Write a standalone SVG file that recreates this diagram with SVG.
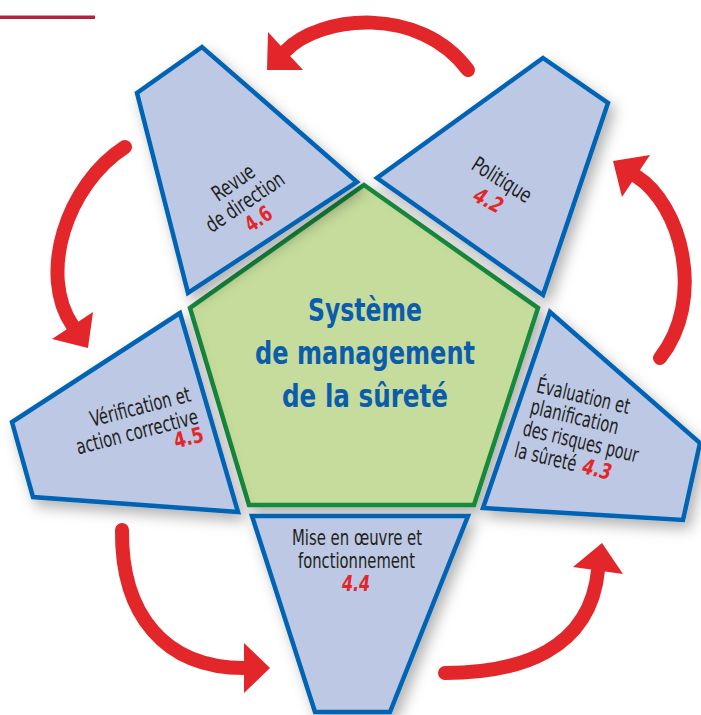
<svg xmlns="http://www.w3.org/2000/svg" width="701" height="715" viewBox="0 0 701 715">
<style>
.blk{fill:#bcc8e4;stroke:#0064b4;stroke-width:4.5;stroke-linejoin:miter}
.pent{fill:#c5dc9c;stroke:#168a3e;stroke-width:4.5;stroke-linejoin:miter}
.t{font-family:"Liberation Sans Narrow","DejaVu Sans Condensed","Liberation Sans",sans-serif;font-size:21.5px;fill:#231f20}
.n{font-family:"Liberation Sans Narrow","DejaVu Sans Condensed","Liberation Sans",sans-serif;font-size:21.5px;font-weight:bold;fill:#e3262a}
.ttl{font-family:"Liberation Sans Narrow","DejaVu Sans Condensed","Liberation Sans",sans-serif;font-size:32px;font-weight:bold;fill:#0b5cab;text-anchor:middle}
.arc{fill:none;stroke:#e3262a;stroke-width:14;stroke-linecap:round}
.head{fill:#e3262a}
</style>
<defs>
<filter id="sh" x="-20%" y="-20%" width="150%" height="150%">
<feDropShadow dx="5" dy="7" stdDeviation="7" flood-color="#000" flood-opacity="0.3"/>
</filter>
</defs>
<rect x="0" y="15.5" width="95" height="3.5" fill="#b5203f"/>
<g id="connectors">
<path class="arc" d="M468,70 C420,5 320,15 285.5,51"/>
<polygon class="head" points="268,32 303,70 267,70"/>
<path class="arc" d="M125,147 C66,185 38,275 72.5,325.5"/>
<polygon class="head" points="52,339 93,312 88,348"/>
<path class="arc" d="M122,530 C121,615 165,668 244,668"/>
<polygon class="head" points="244,643 270,668 244,693"/>
<path class="arc" d="M445,673 C520,673 590,650 598,570.5"/>
<polygon class="head" points="573,567 602,543 623,574"/>
<path class="arc" d="M660,358 C706,300 682,205 636,176"/>
<polygon class="head" points="650,155 622,197 613,161"/>
</g>
<g id="center" filter="url(#sh)">
<polygon class="pent" points="364,185 538,308 474,505 249,505 190,308"/>
</g>
<g id="center-text">
<text class="ttl" x="365" y="321" textLength="114" lengthAdjust="spacingAndGlyphs">Système</text>
<text class="ttl" x="365" y="364" textLength="220" lengthAdjust="spacingAndGlyphs">de management</text>
<text class="ttl" x="365" y="407" textLength="166" lengthAdjust="spacingAndGlyphs">de la sûreté</text>
</g>
<g id="revue">
<polygon class="blk" filter="url(#sh)" points="202,47 137,93 188,293 357,182"/>
<text class="t" text-anchor="middle" transform="translate(237.5,188.5) rotate(-35)" textLength="47" lengthAdjust="spacingAndGlyphs">Revue</text>
<text class="t" text-anchor="middle" transform="translate(249,208) rotate(-34)" textLength="90" lengthAdjust="spacingAndGlyphs">de direction</text>
<text class="n" text-anchor="middle" transform="translate(262.5,225) rotate(-34)" textLength="28" lengthAdjust="spacingAndGlyphs">4.6</text>
</g>
<g id="politique">
<polygon class="blk" filter="url(#sh)" points="543,58 608,103 543,295 377,178"/>
<text class="t" text-anchor="middle" transform="translate(498,186) rotate(32)" textLength="66" lengthAdjust="spacingAndGlyphs">Politique</text>
<text class="n" font-style="italic" text-anchor="middle" transform="translate(485,207) rotate(28)" textLength="30" lengthAdjust="spacingAndGlyphs">4.2</text>
</g>
<g id="evaluation">
<polygon class="blk" filter="url(#sh)" points="550,312 700,443 683,520 483,508"/>
<text class="t" transform="translate(535.5,392) rotate(13.5)" textLength="95" lengthAdjust="spacingAndGlyphs">Évaluation et</text>
<text class="t" transform="translate(529.3,413.3) rotate(13.5)" textLength="90" lengthAdjust="spacingAndGlyphs">planification</text>
<text class="t" transform="translate(521.7,435) rotate(13.5)" textLength="118" lengthAdjust="spacingAndGlyphs">des risques pour</text>
<g transform="translate(513.3,456.7) rotate(13.5)">
<text class="t" x="0" y="0" textLength="63" lengthAdjust="spacingAndGlyphs">la sûreté</text>
<text class="n" font-style="italic" x="70" y="0" textLength="29" lengthAdjust="spacingAndGlyphs">4.3</text>
</g>
</g>
<g id="mise">
<polygon class="blk" filter="url(#sh)" points="252,516 468,516 390,712 315,712"/>
<text class="t" text-anchor="middle" x="357" y="545" textLength="130" lengthAdjust="spacingAndGlyphs">Mise en œuvre et</text>
<text class="t" text-anchor="middle" x="356.5" y="568" textLength="117" lengthAdjust="spacingAndGlyphs">fonctionnement</text>
<text class="n" font-style="italic" text-anchor="middle" x="356" y="591" textLength="28" lengthAdjust="spacingAndGlyphs">4.4</text>
</g>
<g id="verification">
<polygon class="blk" filter="url(#sh)" points="180,313 12,422 33,497 238,512"/>
<text class="t" text-anchor="end" transform="translate(192,401) rotate(-14.5)" textLength="103" lengthAdjust="spacingAndGlyphs">Vérification et</text>
<text class="t" text-anchor="end" transform="translate(199.3,423.3) rotate(-14.5)" textLength="125" lengthAdjust="spacingAndGlyphs">action corrective</text>
<text class="n" text-anchor="end" transform="translate(205,441) rotate(-14.5)" textLength="30" lengthAdjust="spacingAndGlyphs">4.5</text>
</g>
</svg>
